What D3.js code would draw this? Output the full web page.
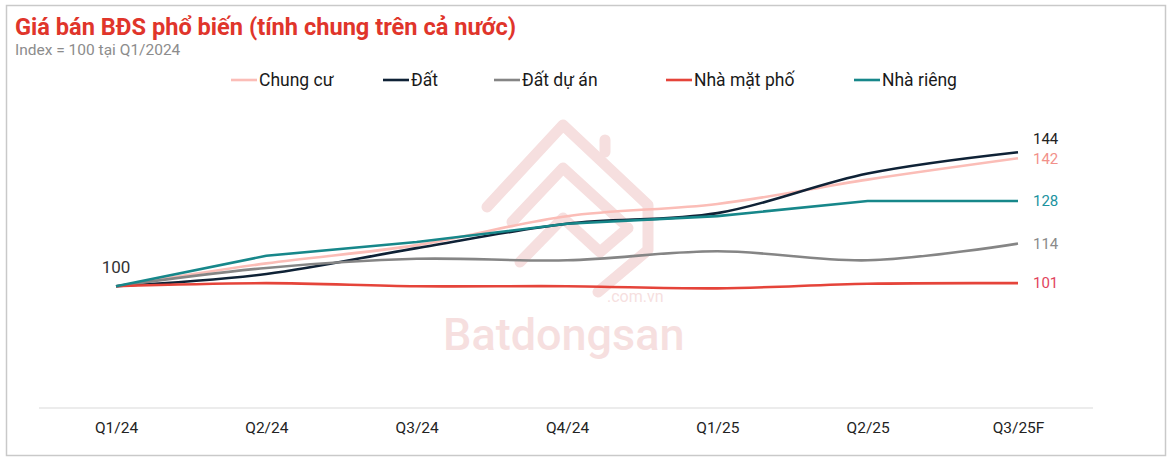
<!DOCTYPE html>
<html>
<head>
<meta charset="utf-8">
<script src="https://cdn.jsdelivr.net/npm/d3@7"></script>
<style>
    body { margin: 0; background: #fff; font-family: Roboto, "Noto Sans", sans-serif; }
</style>
</head>
<body>
<div id="chart"></div>
<script>
// quarters on the x axis
const quarters = ["Q1/24", "Q2/24", "Q3/24", "Q4/24", "Q1/25", "Q2/25", "Q3/25F"];

// index values (Q1/2024 = 100)
const chungCu   = [100, 107.5, 113.5, 123, 127, 135, 142];
const dat       = [100, 104, 112.5, 120.5, 124, 137, 144];
const datDuAn   = [100, 106, 109, 108.5, 111.5, 108.5, 114];
const nhaMatPho = [100, 101, 100, 100, 99.3, 100.8, 101];
const nhaRieng  = [100, 110, 114.5, 120.5, 123, 128, 128];

const seriesNames = ["Chung cư", "Đất", "Đất dự án", "Nhà mặt phố", "Nhà riêng"];
const seriesValues = [chungCu, dat, datDuAn, nhaMatPho, nhaRieng];
const endLabels = ["142", "144", "114", "101", "128"];

const lineColors  = ["#fbbdb7", "#0f2236", "#858585", "#e5443a", "#17878a"];
const labelColors = ["#f2918a", "#222222", "#8a8a8a", "#e2435c", "#1b93a0"];
const smooth      = [true, true, true, true, false];

const width = 1172, height = 458;

const svg = d3.select("#chart").append("svg")
    .attr("width", width)
    .attr("height", height);

// frame
svg.append("rect")
    .attr("x", 6.5).attr("y", 5.5)
    .attr("width", 1159).attr("height", 450)
    .attr("fill", "none")
    .attr("stroke", "#c9c9c9")
    .attr("stroke-width", 1.5);

// title
svg.append("text")
    .attr("x", 15).attr("y", 35)
    .attr("fill", "#e0352b")
    .style("font-size", "23.6px")
    .style("font-weight", "bold")
    .text("Giá bán BĐS phổ biến (tính chung trên cả nước)");

svg.append("text")
    .attr("x", 15).attr("y", 55)
    .attr("fill", "#8c8c8c")
    .style("font-size", "15.5px")
    .text("Index = 100 tại Q1/2024");

// watermark
let wm = svg.append("g").attr("fill", "none").attr("stroke", "#f6dfdf")
    .attr("stroke-width", 11).attr("stroke-linejoin", "round").attr("stroke-linecap", "round");
wm.append("path").attr("d", "M487,207 L563,125 L648,205 L648,250 L598,292");
wm.append("path").attr("d", "M605,140 L605,152");
wm.append("path").attr("d", "M512,222 L563,168 L622,222");
wm.append("path").attr("d", "M520,262 L563,218 L600,252 L628,228");
svg.append("text")
    .attr("x", 443).attr("y", 350)
    .attr("fill", "#f6dfdf")
    .style("font-size", "45px")
    .style("font-weight", "500")
    .text("Batdongsan");
svg.append("text")
    .attr("x", 607).attr("y", 302)
    .attr("fill", "#f6dfdf")
    .style("font-size", "16px")
    .text(".com.vn");

// scales
let x = d3.scalePoint()
    .domain(quarters)
    .range([116, 1018]);

let y = d3.scaleLinear()
    .domain([60, 160])
    .range([408, 103.5]);

// x axis
let xAxis = svg.append("g")
    .attr("transform", "translate(0," + y(60) + ")")
    .call(d3.axisBottom(x).tickSize(0).tickPadding(14));
xAxis.select(".domain").remove();
xAxis.append("line")
    .attr("x1", 39).attr("x2", 1093)
    .attr("stroke", "#d9d9d9")
    .attr("stroke-width", 1.2);
xAxis.selectAll(".tick text")
    .attr("fill", "#222")
    .style("font-family", "Roboto, sans-serif")
    .style("font-size", "15.5px");

// lines
seriesValues.forEach((vals, i) => {
    let line = d3.line()
        .x((d, j) => x(quarters[j]))
        .y(d => y(d))
        .curve(smooth[i] ? d3.curveCatmullRom.alpha(0.5) : d3.curveLinear);

    svg.append("path")
        .datum(vals)
        .attr("fill", "none")
        .attr("stroke", lineColors[i])
        .attr("stroke-width", 2.6)
        .attr("d", line);
});

// start label
svg.append("text")
    .attr("x", x(quarters[0]))
    .attr("y", y(chungCu[0]) - 19)
    .attr("dy", "0.35em")
    .attr("text-anchor", "middle")
    .attr("fill", "#333")
    .style("font-size", "17px")
    .text("100");

// end labels, nudged apart when they would collide
let last = quarters.length - 1;
let labels = seriesValues.map((vals, i) => ({ i: i, y: y(vals[last]) }))
    .sort((a, b) => a.y - b.y);
for (let k = labels.length - 2; k >= 0; k--) {
    if (labels[k + 1].y - labels[k].y < 18) {
        labels[k].y = labels[k + 1].y - 20;
    }
}
svg.selectAll(".end-label")
    .data(labels)
    .join("text")
    .attr("class", "end-label")
    .attr("x", x(quarters[last]) + 15)
    .attr("y", d => d.y)
    .attr("dy", "0.35em")
    .attr("fill", d => labelColors[d.i])
    .style("font-size", "15px")
    .text(d => endLabels[d.i]);

// legend
let legendX = [231, 383, 494, 666, 854];
let legend = svg.append("g");
seriesNames.forEach((name, i) => {
    legend.append("line")
        .attr("x1", legendX[i]).attr("x2", legendX[i] + 26)
        .attr("y1", 80).attr("y2", 80)
        .attr("stroke", lineColors[i])
        .attr("stroke-width", 2.6);
    legend.append("text")
        .attr("x", legendX[i] + 28)
        .attr("y", 80)
        .attr("dy", "0.35em")
        .attr("fill", "#1a1a1a")
        .style("font-size", "17.5px")
        .text(name);
});
</script>
</body>
</html>
